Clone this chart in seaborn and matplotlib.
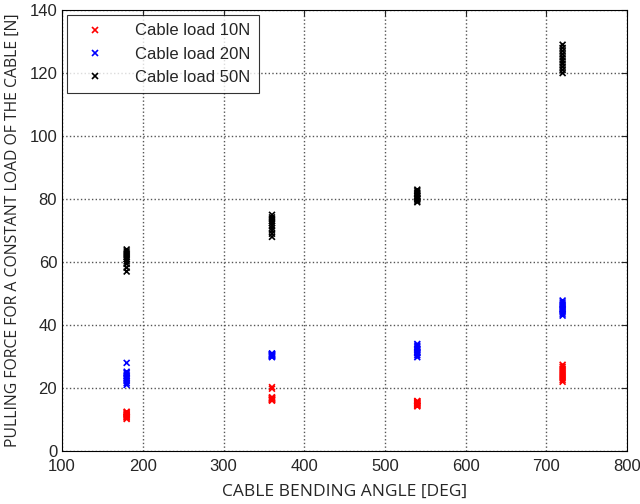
import pandas as pd
import matplotlib.pyplot as plt
import seaborn as sns

# bending angles where measurements were taken
angles = [180, 360, 540, 720]

# pulling force readings [N] per angle, one list per cable load
load_10N = {
    180: [10.2, 10.6, 11.0, 11.3, 11.7, 12.0, 12.3, 10.8, 11.5, 12.5],
    360: [16.0, 16.3, 16.6, 16.9, 17.1, 16.4, 16.8, 19.8, 20.3, 16.2],
    540: [14.2, 14.6, 15.0, 15.3, 15.6, 15.9, 14.8, 15.2, 14.4, 15.8],
    720: [22.0, 22.6, 23.2, 23.8, 24.4, 25.0, 25.6, 26.2, 26.8, 27.4],
}
load_20N = {
    180: [21.0, 21.6, 22.2, 22.8, 23.3, 23.8, 24.3, 24.8, 25.2, 28.0],
    360: [29.8, 30.0, 30.2, 30.4, 30.6, 30.8, 31.0, 30.1, 30.5, 30.9],
    540: [29.8, 30.4, 31.0, 31.5, 32.0, 32.5, 33.0, 33.5, 34.0, 31.2],
    720: [43.0, 43.6, 44.2, 44.8, 45.4, 46.0, 46.6, 47.2, 47.8, 45.0],
}
load_50N = {
    180: [57.0, 58.2, 59.4, 60.2, 61.0, 61.6, 62.2, 62.8, 63.4, 64.0],
    360: [68.0, 69.0, 70.0, 70.8, 71.6, 72.4, 73.0, 73.6, 74.2, 75.0],
    540: [79.0, 79.5, 80.0, 80.5, 81.0, 81.5, 82.0, 82.5, 83.0, 80.2],
    720: [120.0, 121.0, 122.0, 123.0, 124.0, 125.0, 126.0, 127.0, 128.0, 129.0],
}

series = {
    "Cable load 10N": load_10N,
    "Cable load 20N": load_20N,
    "Cable load 50N": load_50N,
}
colors = ["#ff0000", "#0000ff", "#000000"]

rows = []
for name, readings in series.items():
    for a in angles:
        for f in readings[a]:
            rows.append({"angle": a, "force": f, "load": name})
df = pd.DataFrame(rows)

sns.set_style("white")
plt.rcParams['font.family'] = ['Liberation Sans', 'DejaVu Sans']

fig = plt.figure(figsize=(6.4, 5.04), dpi=100)
ax = fig.add_axes([0.097, 0.105, 0.883, 0.875])

sns.scatterplot(data=df, x="angle", y="force", hue="load", palette=colors,
                marker="x", s=18, linewidth=1.2, ax=ax)

ax.set_xlim(100, 800)
ax.set_ylim(0, 140)
ax.set_xticks(range(100, 801, 100))
ax.set_yticks(range(0, 141, 20))
ax.grid(True, linestyle=':', linewidth=1.0, color='#555555')
for sp in ax.spines.values():
    sp.set_visible(True)
    sp.set_color('black')
    sp.set_linewidth(0.8)
ax.tick_params(direction='in', length=4, labelsize=12, top=True, right=True)
ax.tick_params(axis='x', pad=6)

ax.set_xlabel("CABLE BENDING ANGLE [DEG]", fontsize=12.5, labelpad=7,
              family=['Open Sans', 'DejaVu Sans'])
ax.set_ylabel("PULLING FORCE FOR A CONSTANT LOAD OF THE CABLE [N]", fontsize=11.3,
              labelpad=6, family=['Open Sans', 'DejaVu Sans'])

leg = ax.legend(loc='upper left', fontsize=12, frameon=True, fancybox=False,
                edgecolor='black', borderpad=0.5, handletextpad=1.2,
                handlelength=2.4, borderaxespad=0.3)
leg.get_frame().set_linewidth(0.8)

fig.savefig("out.png", dpi=100)
